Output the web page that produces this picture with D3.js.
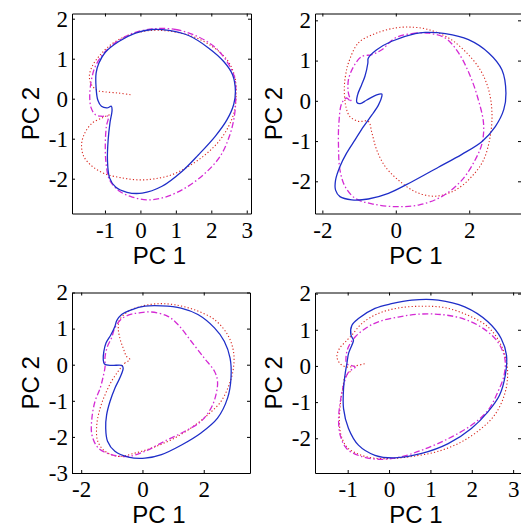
<!DOCTYPE html>
<html>
<head>
<meta charset="utf-8">
<script src="https://cdn.jsdelivr.net/npm/d3@7"></script>
<style>
  body { margin: 0; background: #fff; }
  svg { display: block; }
</style>
</head>
<body>
<div id="chart"></div>
<script>
// ---- data (PC1, PC2) ----
var p1Blue = [[0.33,1.73],[0.80,1.71],[1.36,1.58],[1.92,1.27],[2.35,0.93],[2.60,0.60],[2.68,0.18],[2.63,-0.15],[2.44,-0.53],[2.11,-0.94],[1.64,-1.40],[1.17,-1.82],[0.61,-2.19],[0.05,-2.36],[-0.38,-2.34],[-0.70,-2.21],[-0.87,-1.98],[-0.93,-1.53],[-0.91,-1.03],[-0.86,-0.61],[-0.80,-0.28],[-0.82,-0.19],[-0.94,-0.23],[-1.10,-0.19],[-1.20,-0.04],[-1.25,0.27],[-1.25,0.64],[-1.17,0.89],[-0.99,1.16],[-0.61,1.43],[-0.14,1.64]];
var p1Red = [[-0.28,0.10],[-0.61,0.14],[-0.99,0.17],[-1.22,0.21],[-1.38,0.35],[-1.44,0.56],[-1.36,0.81],[-1.17,1.06],[-0.89,1.31],[-0.52,1.52],[-0.05,1.66],[0.42,1.71],[0.89,1.68],[1.46,1.56],[2.02,1.31],[2.44,0.98],[2.66,0.56],[2.70,0.14],[2.66,-0.28],[2.49,-0.69],[2.21,-1.07],[1.83,-1.40],[1.36,-1.69],[0.89,-1.90],[0.42,-2.00],[-0.05,-2.03],[-0.52,-1.98],[-0.99,-1.88],[-1.36,-1.69],[-1.60,-1.44],[-1.66,-1.15],[-1.57,-0.86],[-1.36,-0.61],[-1.08,-0.48],[-0.87,-0.40]];
var p1Magenta = [[0.42,1.75],[0.99,1.73],[1.55,1.58],[2.07,1.31],[2.44,0.93],[2.66,0.52],[2.69,0.06],[2.65,-0.44],[2.51,-0.94],[2.25,-1.44],[1.83,-1.86],[1.27,-2.23],[0.70,-2.46],[0.23,-2.53],[-0.23,-2.46],[-0.61,-2.30],[-0.87,-2.03],[-0.97,-1.61],[-0.99,-1.11],[-0.96,-0.69],[-0.91,-0.44],[-1.08,-0.44],[-1.27,-0.40],[-1.39,-0.23],[-1.43,0.06],[-1.38,0.48],[-1.27,0.81],[-1.03,1.14],[-0.66,1.43],[-0.14,1.66]];

var p2Blue = [[0.53,1.67],[-0.11,1.48],[-0.52,1.27],[-0.75,1.06],[-0.76,0.94],[-0.84,0.61],[-0.93,0.40],[-1.04,0.15],[-1.06,-0.04],[-0.97,-0.07],[-0.79,0.02],[-0.52,0.15],[-0.38,0.17],[-0.38,0.11],[-0.47,-0.10],[-0.65,-0.35],[-0.88,-0.64],[-1.11,-0.97],[-1.34,-1.30],[-1.52,-1.63],[-1.64,-1.97],[-1.64,-2.22],[-1.52,-2.38],[-1.20,-2.46],[-0.75,-2.44],[-0.20,-2.30],[0.44,-2.01],[1.16,-1.65],[1.80,-1.33],[2.35,-1.01],[2.71,-0.64],[2.94,-0.22],[3.00,0.19],[2.89,0.77],[2.53,1.19],[1.98,1.52],[1.35,1.67],[0.80,1.70]];
var p2Red = [[-1.29,0.94],[-1.02,1.44],[-0.56,1.67],[-0.02,1.81],[0.44,1.83],[0.89,1.77],[1.44,1.56],[1.89,1.23],[2.30,0.77],[2.53,0.27],[2.62,-0.31],[2.57,-0.89],[2.39,-1.47],[2.07,-1.88],[1.62,-2.22],[1.07,-2.37],[0.53,-2.26],[0.07,-1.97],[-0.29,-1.63],[-0.52,-1.22],[-0.65,-0.80],[-0.75,-0.51],[-1.02,-0.51],[-1.25,-0.39],[-1.36,-0.14],[-1.40,0.36],[-1.34,0.77]];
var p2Magenta = [[-0.02,1.56],[0.44,1.67],[0.89,1.68],[1.35,1.56],[1.71,1.19],[2.03,0.61],[2.25,0.02],[2.39,-0.56],[2.35,-1.05],[2.16,-1.47],[1.80,-1.97],[1.25,-2.38],[0.62,-2.59],[-0.02,-2.63],[-0.65,-2.56],[-1.11,-2.42],[-1.38,-2.13],[-1.52,-1.72],[-1.56,-1.14],[-1.55,-0.56],[-1.47,-0.06],[-1.34,0.07],[-1.22,-0.02],[-1.29,0.19],[-1.29,0.52],[-1.15,0.85],[-0.93,1.10],[-0.65,1.15],[-0.38,1.27]];

var p3Blue = [[-0.68,-0.02],[-0.63,-0.09],[-0.74,-0.37],[-0.90,-0.65],[-1.06,-1.02],[-1.17,-1.39],[-1.20,-1.75],[-1.14,-2.12],[-0.90,-2.40],[-0.46,-2.56],[0.08,-2.59],[0.62,-2.49],[1.26,-2.23],[1.91,-1.89],[2.45,-1.48],[2.78,-0.92],[2.89,-0.37],[2.86,0.18],[2.67,0.65],[2.35,1.02],[1.81,1.39],[1.26,1.57],[0.62,1.63],[0.08,1.62],[-0.36,1.52],[-0.68,1.39],[-0.84,1.22],[-0.90,1.06],[-1.03,0.83],[-1.19,0.60],[-1.26,0.37],[-1.28,0.14],[-1.24,0.02],[-1.01,-0.02]];
var p3Red = [[-0.41,0.14],[-0.57,0.05],[-0.79,-0.18],[-1.01,-0.46],[-1.22,-0.83],[-1.38,-1.20],[-1.49,-1.66],[-1.46,-2.12],[-1.22,-2.40],[-0.79,-2.54],[-0.25,-2.45],[0.29,-2.31],[0.94,-2.08],[1.59,-1.75],[2.13,-1.39],[2.56,-1.02],[2.83,-0.55],[2.97,-0.09],[2.97,0.37],[2.78,0.83],[2.35,1.25],[1.70,1.52],[1.05,1.66],[0.51,1.69],[-0.03,1.62],[-0.46,1.48],[-0.74,1.25],[-0.79,1.02],[-0.74,0.74],[-0.63,0.46],[-0.52,0.23]];
var p3Magenta = [[-0.14,1.43],[0.29,1.46],[0.83,1.34],[1.16,1.11],[1.59,0.65],[2.02,0.18],[2.35,-0.18],[2.45,-0.46],[2.40,-0.83],[2.24,-1.20],[1.91,-1.57],[1.37,-1.85],[0.72,-2.12],[0.08,-2.40],[-0.46,-2.54],[-1.01,-2.49],[-1.44,-2.31],[-1.65,-1.94],[-1.65,-1.48],[-1.55,-1.02],[-1.38,-0.65],[-1.28,-0.32],[-1.22,-0.05],[-1.22,0.23],[-1.14,0.51],[-1.01,0.74],[-0.90,1.02],[-0.68,1.27],[-0.36,1.40]];

var p4Blue = [[0.55,1.82],[1.19,1.82],[1.83,1.63],[2.39,1.22],[2.71,0.76],[2.84,0.29],[2.81,-0.26],[2.67,-0.81],[2.39,-1.27],[1.99,-1.73],[1.43,-2.15],[0.79,-2.42],[0.14,-2.54],[-0.34,-2.47],[-0.74,-2.19],[-0.98,-1.73],[-1.10,-1.18],[-1.10,-0.63],[-1.06,-0.21],[-1.02,0.06],[-0.98,0.34],[-0.90,0.57],[-0.86,0.71],[-0.92,0.85],[-0.90,1.12],[-0.74,1.31],[-0.34,1.59],[0.06,1.72]];
var p4Red = [[-0.59,0.06],[-0.82,0.00],[-1.02,-0.03],[-1.18,0.06],[-1.26,0.25],[-1.20,0.48],[-1.06,0.66],[-0.90,0.85],[-0.66,1.17],[-0.26,1.45],[0.22,1.60],[0.79,1.65],[1.35,1.61],[1.91,1.40],[2.39,1.08],[2.67,0.66],[2.84,0.11],[2.86,-0.40],[2.76,-0.90],[2.55,-1.36],[2.23,-1.73],[1.75,-2.10],[1.19,-2.36],[0.63,-2.49],[0.06,-2.56],[-0.42,-2.54],[-0.78,-2.42],[-1.02,-2.24],[-1.16,-1.92],[-1.20,-1.55],[-1.18,-1.09],[-1.12,-0.63],[-1.06,-0.30],[-0.90,-0.12]];
var p4Magenta = [[-0.82,-0.03],[-0.98,-0.17],[-1.10,-0.53],[-1.18,-1.00],[-1.22,-1.46],[-1.18,-1.92],[-1.02,-2.29],[-0.70,-2.49],[-0.26,-2.58],[0.22,-2.53],[0.79,-2.33],[1.43,-2.01],[1.99,-1.64],[2.39,-1.23],[2.63,-0.72],[2.78,-0.26],[2.80,0.20],[2.63,0.66],[2.31,1.01],[1.83,1.29],[1.27,1.42],[0.71,1.43],[0.22,1.35],[-0.26,1.22],[-0.58,1.03],[-0.82,0.80],[-0.98,0.53],[-1.04,0.25],[-1.02,0.06]];

// axis limits and tick labels
var p1XDomain = [-1.93, 3.12], p1YDomain = [-2.87, 2.13];
var p2XDomain = [-2.20, 3.41], p2YDomain = [-2.80, 2.17];
var p3XDomain = [-2.30, 3.51], p3YDomain = [-3.00, 2.00];
var p4XDomain = [-1.79, 3.19], p4YDomain = [-2.96, 2.03];
var p1XTicks = [-1, 0, 1, 2, 3], p1YTicks = [-2, -1, 0, 1, 2];
var p2XTicks = [-2, 0, 2],       p2YTicks = [-2, -1, 0, 1, 2];
var p3XTicks = [-2, 0, 2],       p3YTicks = [-3, -2, -1, 0, 1, 2];
var p4XTicks = [-1, 0, 1, 2, 3], p4YTicks = [-2, -1, 0, 1, 2];

var panels = [
    {x: p1XDomain, y: p1YDomain, xt: p1XTicks, yt: p1YTicks, blue: p1Blue, red: p1Red, mag: p1Magenta, redClosed: false},
    {x: p2XDomain, y: p2YDomain, xt: p2XTicks, yt: p2YTicks, blue: p2Blue, red: p2Red, mag: p2Magenta, redClosed: true},
    {x: p3XDomain, y: p3YDomain, xt: p3XTicks, yt: p3YTicks, blue: p3Blue, red: p3Red, mag: p3Magenta, redClosed: true},
    {x: p4XDomain, y: p4YDomain, xt: p4XTicks, yt: p4YTicks, blue: p4Blue, red: p4Red, mag: p4Magenta, redClosed: false}
];

// layout of the 2x2 grid (pixels)
var boxes = [
    {left: 72,  top: 13.5,  width: 179, height: 200},
    {left: 315, top: 13.5,  width: 206, height: 200},
    {left: 72,  top: 292.5, width: 178, height: 180.5},
    {left: 315, top: 292.5, width: 206, height: 180.5}
];

var width = 521, height = 527;
var serif = '"Liberation Serif"';
var sans = '"Liberation Sans"';

var svg = d3.select('#chart')
    .append('svg')
        .attr('width', width)
        .attr('height', height)
        .style('background', '#fff');

panels.forEach(function (p, i) {
    var b = boxes[i];
    var g = svg.append('g')
        .attr('transform', 'translate(' + b.left + ',' + b.top + ')');

    var xScale = d3.scaleLinear().domain(p.x).range([0, b.width]);
    var yScale = d3.scaleLinear().domain(p.y).range([b.height, 0]);

    g.append('clipPath')
        .attr('id', 'clip' + i)
      .append('rect')
        .attr('width', b.width)
        .attr('height', b.height);

    var plot = g.append('g').attr('clip-path', 'url(#clip' + i + ')');

    function path(data, closed) {
        return d3.line()
            .x(function (d) { return xScale(d[0]); })
            .y(function (d) { return yScale(d[1]); })
            .curve(closed ? d3.curveCatmullRomClosed.alpha(0.5) : d3.curveCatmullRom.alpha(0.5))(data);
    }

    // red dotted
    plot.append('path')
        .attr('d', path(p.red, p.redClosed))
        .attr('fill', 'none')
        .attr('stroke', '#d8261e')
        .attr('stroke-width', 1.1)
        .attr('stroke-dasharray', '1.2,2.2');

    // magenta dash-dot
    plot.append('path')
        .attr('d', path(p.mag, true))
        .attr('fill', 'none')
        .attr('stroke', '#d42ad4')
        .attr('stroke-width', 1.3)
        .attr('stroke-dasharray', '6,2.5,1.5,2.5');

    // blue solid
    plot.append('path')
        .attr('d', path(p.blue, true))
        .attr('fill', 'none')
        .attr('stroke', '#1f2ec8')
        .attr('stroke-width', 1.3);

    var fmt = function (d) { return String(d); };

    // axes, ticks inside on all four sides
    g.append('g')
        .attr('transform', 'translate(0,' + b.height + ')')
        .call(d3.axisBottom(xScale).tickValues(p.xt).tickFormat(fmt).tickSize(-3).tickSizeOuter(0).tickPadding(8));
    g.append('g')
        .call(d3.axisLeft(yScale).tickValues(p.yt).tickFormat(fmt).tickSize(-3).tickSizeOuter(0).tickPadding(4));
    g.append('g')
        .call(d3.axisTop(xScale).tickValues(p.xt).tickFormat('').tickSize(-3).tickSizeOuter(0));
    g.append('g')
        .attr('transform', 'translate(' + b.width + ',0)')
        .call(d3.axisRight(yScale).tickValues(p.yt).tickFormat('').tickSize(-3).tickSizeOuter(0));

    g.selectAll('.domain').attr('stroke', '#000').attr('stroke-width', 1);
    g.selectAll('.tick line').attr('stroke', '#000');
    g.selectAll('.tick text')
        .style('font-family', serif)
        .style('font-size', '23px')
        .style('fill', '#000');

    // axis titles
    g.append('text')
        .attr('x', b.width / 2 - 2)
        .attr('y', b.height + 50)
        .attr('text-anchor', 'middle')
        .style('font-family', sans)
        .style('font-size', '24px')
        .text('PC 1');

    g.append('text')
        .attr('transform', 'rotate(-90)')
        .attr('x', -b.height / 2)
        .attr('y', -33)
        .attr('text-anchor', 'middle')
        .style('font-family', sans)
        .style('font-size', '24px')
        .text('PC 2');
});
</script>
</body>
</html>
